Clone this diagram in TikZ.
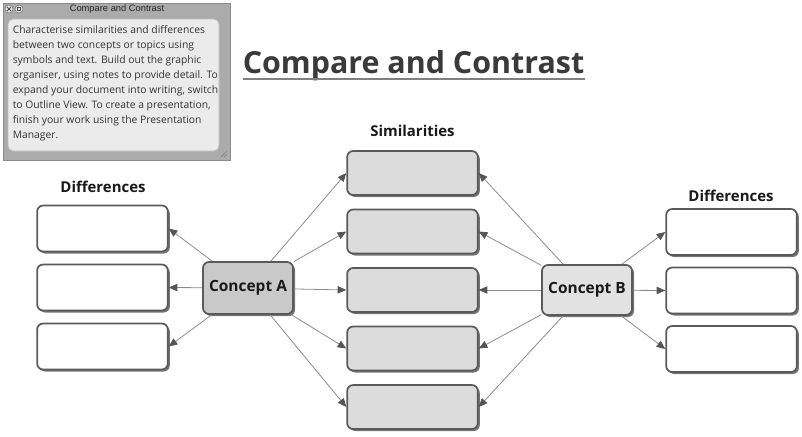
\documentclass[tikz,border=0pt]{standalone}
\usepackage{fontspec}
\setmainfont{Open Sans}
\newfontfamily\uifont{Liberation Sans}
\usetikzlibrary{arrows.meta,shadows}
\definecolor{boxline}{HTML}{5A5A5A}
\definecolor{simfill}{HTML}{DCDCDC}
\definecolor{conafill}{HTML}{C9C9C9}
\definecolor{conbfill}{HTML}{E2E2E2}
\definecolor{linkgray}{HTML}{8C8C8C}
\definecolor{tipgray}{HTML}{555555}
\definecolor{titlegray}{HTML}{3A3A3A}
\definecolor{panelgray}{HTML}{ABABAB}
\definecolor{panelinner}{HTML}{EBEBEB}
\tikzset{
  card/.style={draw=boxline, line width=1.3pt, rounded corners=4.5pt,
    drop shadow={shadow xshift=1.5pt, shadow yshift=-1.5pt, fill=black!60, opacity=0.9}},
  simbox/.style={card, fill=simfill, minimum width=98pt, minimum height=33pt},
  diffbox/.style={card, fill=white, minimum width=98pt, minimum height=34.5pt},
  concept/.style={card, font=\bfseries\fontsize{11.6}{13}\selectfont, text=black!90},
  heading/.style={font=\bfseries\fontsize{11.2}{12}\selectfont, text=black!90},
  link/.style={draw=linkgray, line width=0.6pt,
    -{Triangle[length=6.5pt,width=5.5pt,fill=tipgray,color=tipgray]}},
}
\begin{document}
\begin{tikzpicture}[x=0.75pt,y=-0.75pt]
\useasboundingbox (0,0) rectangle (802,436);

% help panel
\draw[draw=black!45, fill=panelgray] (3,3) rectangle (230,160);
\node[font=\uifont\fontsize{7}{8}\selectfont, text=black!85] (ptitle) at (117,9) {Compare and Contrast};
\draw[black!55, line width=0.4pt, fill=black!10] (9,9) circle (4);
\draw[black!70, line width=0.6pt] (7,7) -- (11,11) (7,11) -- (11,7);
\draw[black!55, line width=0.4pt, fill=black!10] (19,9) circle (4);
\draw[black!70, line width=0.5pt] (17.2,7.2) rectangle (20.8,10.8);
\draw[draw=black!25, fill=panelinner, rounded corners=4pt] (8,19) rectangle (219,151);
\node[anchor=north west, align=left, inner sep=0pt, text=black!80,
      font=\fontsize{7.75}{11.25}\selectfont] (ptext) at (12.5,25)
  {Characterise similarities and differences\\
   between two concepts or topics using\\
   symbols and text. Build out the graphic\\
   organiser, using notes to provide detail. To\\
   expand your document into writing, switch\\
   to Outline View. To create a presentation,\\
   finish your work using the Presentation\\
   Manager.};
\draw[black!50, line width=0.4pt] (221,157) -- (227,151) (224,157) -- (227,154);

% title
\node[font=\bfseries\fontsize{22.8}{26}\selectfont, text=titlegray, inner sep=0pt] (title) at (413.5,66) {Compare and Contrast};
\draw[black!50, line width=1.6pt] (243,79) -- (585,79);

% headings
\node[heading] (simhead) at (412.5,131) {Similarities};
\node[heading] (ldhead) at (103,187) {Differences};
\node[heading] (rdhead) at (731,196) {Differences};

% similarity boxes
\node[simbox] (s1) at (412.5,173) {};
\node[simbox] (s2) at (412.5,231.5) {};
\node[simbox] (s3) at (412.5,290) {};
\node[simbox] (s4) at (412.5,348.5) {};
\node[simbox] (s5) at (412.5,407) {};

% difference boxes
\node[diffbox] (l1) at (102.5,228.5) {};
\node[diffbox] (l2) at (102.5,287.5) {};
\node[diffbox] (l3) at (102.5,346.5) {};
\node[diffbox] (r1) at (731.5,232) {};
\node[diffbox] (r2) at (731.5,290.5) {};
\node[diffbox] (r3) at (731.5,349) {};

% concepts
\node[concept, fill=conafill, minimum width=67.5pt, minimum height=39pt] (ca) at (248,288) {Concept A};
\node[concept, fill=conbfill, minimum width=67.5pt, minimum height=37.5pt] (cb) at (587,290) {Concept B};

% connectors
\foreach \t in {l1,l2,l3} \draw[link] (ca) -- (\t.east);
\foreach \t in {s1,s2,s3,s4,s5} \draw[link] (ca) -- (\t.west);
\foreach \t in {s1,s2,s3,s4,s5} \draw[link] (cb) -- (\t.east);
\foreach \t in {r1,r2,r3} \draw[link] (cb) -- (\t.west);
\end{tikzpicture}
\end{document}
